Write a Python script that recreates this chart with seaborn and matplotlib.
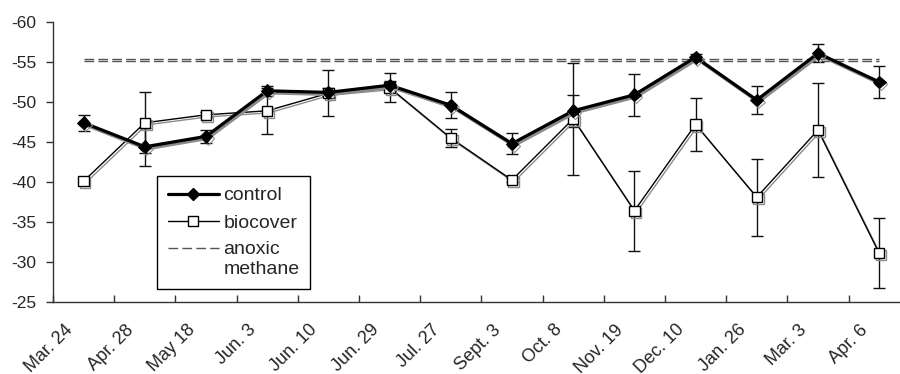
import numpy as np
import matplotlib
matplotlib.use("Agg")
import matplotlib.pyplot as plt
import matplotlib.patheffects as pe
from matplotlib.lines import Line2D
from matplotlib.legend_handler import HandlerLine2D
from matplotlib.transforms import ScaledTranslation
import seaborn as sns

# Sampling dates
dates = ["Mar. 24", "Apr. 28", "May 18", "Jun. 3", "Jun. 10", "Jun. 29", "Jul. 27",
         "Sept. 3", "Oct. 8", "Nov. 19", "Dec. 10", "Jan. 26", "Mar. 3", "Apr. 6"]

# delta-13C of methane (per mil)
control = [-47.4, -44.4, -45.7, -51.4, -51.2, -52.1, -49.6,
           -44.8, -48.9, -50.9, -55.6, -50.25, -56.1, -52.5]
control_err = [1.0, 2.4, 0.8, 0.6, 0.5, 0.5, 1.65,
               1.3, 2.0, 2.6, 0.4, 1.75, 1.1, 1.95]

biocover = [-40.1, -47.4, -48.4, -48.9, -51.1, -51.8, -45.5,
            -40.25, -47.9, -36.4, -47.2, -38.1, -46.5, -31.1]
biocover_err = [0.3, 3.8, 0.3, 2.9, 2.9, 1.85, 1.1,
                0.3, 7.0, 5.0, 3.3, 4.8, 5.85, 4.4]

# anoxic methane reference levels
anoxic = [-55.4, -55.1]

y_ticks = [-60, -55, -50, -45, -40, -35, -30, -25]

sns.set_style("ticks")
plt.rcParams["font.family"] = ["Liberation Sans", "DejaVu Sans"]
plt.rcParams["axes.unicode_minus"] = False
plt.rcParams["lines.scale_dashes"] = False

fig = plt.figure(figsize=(9.0, 3.74), dpi=100)
ax = fig.add_axes([53 / 900, 72 / 374, 847 / 900, 280 / 374])

n = len(dates)
pos = np.arange(n) + 0.5

shadow = [pe.SimpleLineShadow(offset=(1.2, -1.5), shadow_color="#8c8c8c", alpha=1.0),
          pe.Normal()]

# error bars
ax.errorbar(pos, biocover, yerr=biocover_err, fmt="none", ecolor="#111111",
            elinewidth=1.0, capsize=4.5, capthick=1.0, zorder=2)
ax.errorbar(pos, control, yerr=control_err, fmt="none", ecolor="#111111",
            elinewidth=1.0, capsize=4.5, capthick=1.0, zorder=2)

# anoxic methane band
ax.hlines(anoxic, pos[0], pos[-1], colors="#555555", linewidth=1.0,
          linestyles=[(0, (7, 3))], zorder=1.5)

sns.lineplot(x=pos, y=biocover, ax=ax, color="black", linewidth=1.0,
             marker="s", markersize=7.5, markerfacecolor="white",
             markeredgecolor="black", markeredgewidth=1.0,
             path_effects=shadow, zorder=3)
sns.lineplot(x=pos, y=control, ax=ax, color="black", linewidth=2.3,
             marker="D", markersize=6.5, markerfacecolor="black",
             markeredgecolor="black", path_effects=shadow, zorder=4)

ax.set_xlim(0, 13.84)
ax.set_ylim(-25, -60)
ax.set_yticks(y_ticks)
ax.set_yticklabels([str(v) for v in y_ticks])
ax.set_xticks(np.arange(n))
ax.set_xticklabels(dates, rotation=45, ha="right", va="top", rotation_mode="anchor")

ax.tick_params(axis="y", direction="out", length=5, width=1, color="#333333",
               labelsize=12.5, pad=7)
ax.tick_params(axis="x", direction="in", length=5, width=1, color="#333333",
               labelsize=13, pad=14)

shift = ScaledTranslation(8 / 72, 0, fig.dpi_scale_trans)
for lab in ax.get_xticklabels():
    lab.set_transform(lab.get_transform() + shift)

for side in ("top", "right"):
    ax.spines[side].set_visible(False)
for side in ("left", "bottom"):
    ax.spines[side].set_color("#333333")
    ax.spines[side].set_linewidth(1.0)
ax.set_xlabel("")
ax.set_ylabel("")


class FirstLineHandler(HandlerLine2D):
    """Keep the legend sample level with the first line of a two-line label."""

    def create_artists(self, legend, orig_handle, xdescent, ydescent, width,
                       height, fontsize, trans):
        return super().create_artists(legend, orig_handle, xdescent,
                                      ydescent - 16.5, width, height, fontsize, trans)


h_control = Line2D([], [], color="black", linewidth=2.3, marker="D",
                   markersize=6.5, markerfacecolor="black")
h_bio = Line2D([], [], color="black", linewidth=1.0, marker="s",
               markersize=7.5, markerfacecolor="white", markeredgecolor="black")
h_anoxic = Line2D([], [], color="#555555", linewidth=1.0, linestyle=(0, (7, 3)))

leg = ax.legend([h_control, h_bio, h_anoxic],
                ["control", "biocover", "anoxic\nmethane"],
                handler_map={h_anoxic: FirstLineHandler()},
                loc="upper left", bbox_to_anchor=((157 - 53) / 847, (302 - 176) / 280),
                borderaxespad=0, fontsize=14, frameon=True, fancybox=False,
                framealpha=1, edgecolor="black", handlelength=2.65,
                handletextpad=0.22, labelspacing=0.5, borderpad=0.55)
leg.get_frame().set_linewidth(1.0)
for t in leg.get_texts():
    t.set_linespacing(1.22)

fig.savefig("out.png", dpi=100)
